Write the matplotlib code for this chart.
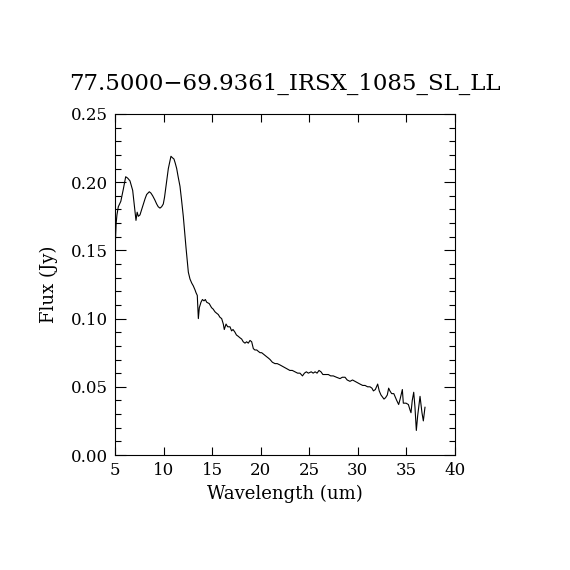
import numpy as np
import matplotlib
matplotlib.use("Agg")
import matplotlib.pyplot as plt
from matplotlib.ticker import MultipleLocator

TITLE = "77.5000\u221269.9361_IRSX_1085_SL_LL"

# spectrum, split in pieces
wave_a = [5.0, 5.05, 5.12, 5.2, 5.34, 5.6, 5.86, 6.1, 6.3, 6.54, 6.82, 6.99, 7.16, 7.28, 7.4,
          7.57, 7.75, 7.92, 8.1, 8.26, 8.53, 8.7, 8.88, 9.1, 9.29, 9.45, 9.63, 9.8, 9.97]
flux_a = [0.165, 0.158, 0.170, 0.176, 0.182, 0.186, 0.195, 0.204, 0.203, 0.201, 0.194, 0.183, 0.172, 0.178, 0.175,
          0.176, 0.180, 0.184, 0.188, 0.191, 0.193, 0.192, 0.190, 0.187, 0.184, 0.182, 0.181, 0.182, 0.184]

wave_b = [10.1, 10.25, 10.49, 10.76, 10.9, 11.07, 11.2, 11.35, 11.5, 11.69, 11.85, 12.03, 12.15, 12.31, 12.45,
          12.55, 12.72, 12.9, 13.06, 13.24, 13.34, 13.47, 13.58, 13.68, 13.85, 14.0, 14.16, 14.3, 14.44]
flux_b = [0.189, 0.197, 0.210, 0.219, 0.218, 0.217, 0.214, 0.210, 0.204, 0.197, 0.187, 0.175, 0.165, 0.152, 0.141,
          0.134, 0.129, 0.126, 0.124, 0.121, 0.119, 0.117, 0.100, 0.108, 0.112, 0.114, 0.113, 0.114, 0.112]

wave_c = [14.7, 14.94, 15.1, 15.29, 15.45, 15.63, 15.8, 15.98, 16.15, 16.25, 16.43, 16.6, 16.84, 17.0, 17.15,
          17.35, 17.5, 17.69, 17.85, 18.04, 18.2, 18.38, 18.55, 18.72, 18.9, 19.07, 19.24, 19.4, 19.59, 19.75,
          19.93, 20.1, 20.27, 20.45, 20.62, 20.8, 20.96]
flux_c = [0.111, 0.108, 0.107, 0.105, 0.104, 0.103, 0.101, 0.100, 0.096, 0.092, 0.096, 0.094, 0.094, 0.091, 0.092,
          0.090, 0.088, 0.087, 0.086, 0.085, 0.083, 0.082, 0.083, 0.082, 0.084, 0.083, 0.078, 0.077, 0.077, 0.076,
          0.075, 0.075, 0.074, 0.073, 0.072, 0.071, 0.070]

wave_d = [21.2, 21.47, 21.7, 21.99, 22.25, 22.5, 22.75, 23.0, 23.25, 23.53, 23.8, 24.04, 24.3, 24.5, 24.7,
          24.9, 25.2, 25.4, 25.6, 25.8, 26.0, 26.2, 26.4, 26.7, 26.96, 27.2, 27.47, 27.8, 28.16, 28.4,
          28.68, 28.9, 29.19, 29.45, 29.7, 29.95, 30.22, 30.5, 30.74, 31.0, 31.25]
flux_d = [0.068, 0.067, 0.067, 0.066, 0.065, 0.064, 0.063, 0.062, 0.062, 0.061, 0.060, 0.060, 0.058, 0.060, 0.061,
          0.060, 0.061, 0.060, 0.061, 0.060, 0.062, 0.061, 0.059, 0.059, 0.059, 0.058, 0.058, 0.057, 0.056, 0.057,
          0.057, 0.055, 0.054, 0.055, 0.054, 0.053, 0.052, 0.051, 0.051, 0.050, 0.050]

wave_e = [31.45, 31.6, 31.8, 32.04, 32.2, 32.38, 32.69, 32.85, 33.03, 33.17, 33.3, 33.48, 33.7, 34.0, 34.2,
          34.35, 34.58, 34.68, 34.96, 35.2, 35.37, 35.47, 35.6, 35.75, 35.88, 36.02, 36.16, 36.4, 36.6, 36.74,
          36.91]
flux_e = [0.049, 0.047, 0.048, 0.052, 0.047, 0.044, 0.041, 0.042, 0.044, 0.049, 0.047, 0.045, 0.045, 0.040, 0.037,
          0.041, 0.048, 0.038, 0.038, 0.037, 0.033, 0.031, 0.040, 0.046, 0.035, 0.018, 0.029, 0.043, 0.031, 0.025,
          0.035]

wave = np.array(wave_a + wave_b + wave_c + wave_d + wave_e)
flux = np.array(flux_a + flux_b + flux_c + flux_d + flux_e)

plt.rcParams["font.family"] = ["DejaVu Serif"]

fig = plt.figure(figsize=(5.7, 5.7), dpi=100)
ax = fig.add_axes([115 / 570, 1 - 455 / 570, 340 / 570, 341 / 570])

ax.plot(wave, flux, color="black", lw=0.8)

ax.set_xlim(5, 40)
ax.set_ylim(0, 0.25)
ax.xaxis.set_major_locator(MultipleLocator(5))
ax.yaxis.set_major_locator(MultipleLocator(0.05))
ax.yaxis.set_minor_locator(MultipleLocator(0.01))
ax.yaxis.set_major_formatter(matplotlib.ticker.FormatStrFormatter("%.2f"))

ax.tick_params(which="both", direction="in", top=True, right=True, width=0.8, labelsize=12)
ax.tick_params(axis="x", which="major", length=6, pad=5)
ax.tick_params(axis="y", which="major", length=8, pad=5)
ax.tick_params(axis="y", which="minor", length=4)
for s in ax.spines.values():
    s.set_linewidth(0.8)

ax.set_xlabel("Wavelength (um)", fontsize=13, labelpad=4)
ax.set_ylabel("Flux (Jy)", fontsize=13, labelpad=9)
fig.text(285 / 570, 1 - 84 / 570, TITLE, ha="center", va="center", fontsize=16.5)

plt.savefig("out.png", dpi=100)
